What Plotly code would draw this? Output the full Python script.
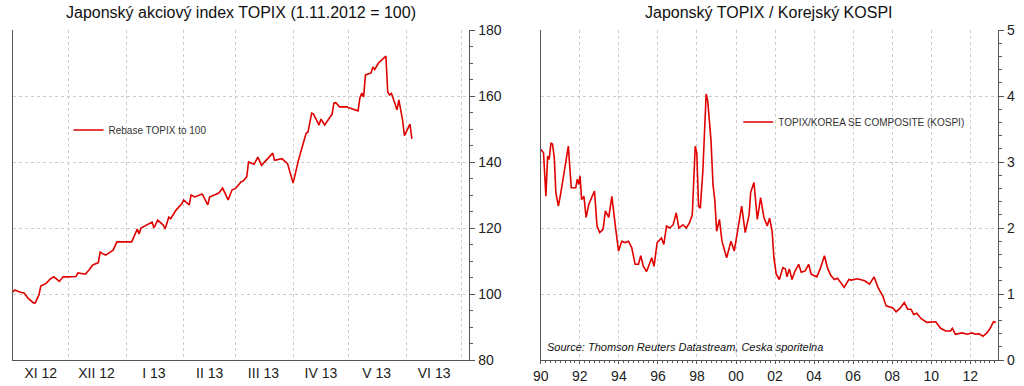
import plotly.graph_objects as go

# ---------------- Left chart: TOPIX rebased (1.11.2012 = 100) ----------------
topix_dates = [
    "2012-11-01", "2012-11-02", "2012-11-05", "2012-11-07", "2012-11-09", "2012-11-12",
    "2012-11-13", "2012-11-15", "2012-11-16", "2012-11-19", "2012-11-21", "2012-11-23",
    "2012-11-26", "2012-11-28", "2012-11-30", "2012-12-05", "2012-12-06", "2012-12-10",
    "2012-12-12", "2012-12-13", "2012-12-14", "2012-12-17", "2012-12-18", "2012-12-19",
    "2012-12-21", "2012-12-25", "2012-12-27", "2012-12-28", "2013-01-04", "2013-01-07",
    "2013-01-08", "2013-01-09", "2013-01-14", "2013-01-15", "2013-01-16", "2013-01-18",
    "2013-01-21", "2013-01-22", "2013-01-24", "2013-01-25", "2013-01-28", "2013-01-30",
    "2013-01-31", "2013-02-01", "2013-02-04", "2013-02-05", "2013-02-07", "2013-02-11",
    "2013-02-14", "2013-02-15", "2013-02-18", "2013-02-20", "2013-02-22", "2013-02-25",
    "2013-02-27", "2013-03-01", "2013-03-04", "2013-03-05", "2013-03-07", "2013-03-08",
    "2013-03-11", "2013-03-13", "2013-03-15", "2013-03-18", "2013-03-21", "2013-03-22",
    "2013-03-26", "2013-03-29", "2013-04-01", "2013-04-04", "2013-04-08", "2013-04-09",
    "2013-04-11", "2013-04-12", "2013-04-15", "2013-04-16", "2013-04-18", "2013-04-22",
    "2013-04-23", "2013-04-24", "2013-04-26", "2013-04-30", "2013-05-01", "2013-05-06",
    "2013-05-07", "2013-05-08", "2013-05-09", "2013-05-10", "2013-05-13", "2013-05-14",
    "2013-05-15", "2013-05-17", "2013-05-20", "2013-05-21", "2013-05-22", "2013-05-23",
    "2013-05-24", "2013-05-27", "2013-05-28", "2013-05-30", "2013-05-31", "2013-06-03",
    "2013-06-04",
]
topix_values = [
    100.6, 101.2, 100.5, 100.3, 98.8, 97.3,
    97.3, 99.7, 102.4, 103.3, 104.5, 105.2,
    103.8, 105.2, 105.2, 105.3, 106.4, 106.0,
    107.3, 107.9, 108.8, 109.5, 112.7, 112.3,
    111.8, 113.3, 115.8, 115.8, 115.8, 119.7,
    118.2, 120.0, 121.5, 121.8, 120.0, 122.4,
    120.9, 119.7, 123.3, 122.8, 125.5, 126.7,
    127.3, 128.5, 127.0, 130.0, 129.4, 130.3,
    127.0, 129.4, 130.0, 130.6, 132.1, 128.5,
    131.5, 132.0, 134.0, 134.2, 135.5, 140.0,
    139.3, 141.5, 139.0, 140.8, 142.7, 140.5,
    141.0, 139.5, 133.6, 140.8, 148.7, 149.0,
    154.8, 154.5, 151.2, 153.0, 151.2, 154.5,
    157.9, 158.0, 156.7, 156.7, 156.4, 155.5,
    159.4, 160.9, 159.7, 166.4, 167.0, 168.8,
    168.0, 170.0, 171.5, 172.1, 161.2, 160.3,
    160.8, 155.8, 158.8, 152.7, 148.0, 151.5,
    147.0,
]
left_month_starts = ["2012-11-01", "2012-12-01", "2013-01-01", "2013-02-01", "2013-03-01",
                     "2013-04-01", "2013-05-01", "2013-06-01", "2013-07-01"]
left_label_dates = ["2012-11-16", "2012-12-16", "2013-01-16", "2013-02-15", "2013-03-16",
                    "2013-04-16", "2013-05-16", "2013-06-16"]
left_labels = ["XI 12", "XII 12", "I 13", "II 13", "III 13", "IV 13", "V 13", "VI 13"]
left_y_ticks = [80, 100, 120, 140, 160, 180]

# ---------------- Right chart: TOPIX / KOSPI ratio ----------------
ratio_years = [
    1990.01, 1990.14, 1990.26, 1990.35, 1990.43, 1990.52, 1990.60, 1990.69, 1990.77, 1990.90,
    1991.03, 1991.19, 1991.41, 1991.56, 1991.79, 1991.87, 1991.95, 1992.01, 1992.09, 1992.21,
    1992.32, 1992.46, 1992.63, 1992.75, 1992.88, 1993.02, 1993.19, 1993.31, 1993.48, 1993.64,
    1993.82, 1993.98, 1994.15, 1994.32, 1994.49, 1994.66, 1994.83, 1995.00, 1995.12, 1995.25,
    1995.42, 1995.68, 1995.80, 1995.96, 1996.18, 1996.30, 1996.44, 1996.61, 1996.78, 1996.94,
    1997.07, 1997.28, 1997.45, 1997.62, 1997.76, 1997.91, 1997.99, 1998.08, 1998.17, 1998.30,
    1998.47, 1998.55, 1998.72, 1998.82, 1998.91, 1999.01, 1999.15, 1999.28, 1999.52, 1999.74,
    1999.91, 2000.16, 2000.29, 2000.47, 2000.67, 2000.75, 2000.92, 2001.09, 2001.26, 2001.43,
    2001.60, 2001.72, 2001.85, 2001.94, 2002.06, 2002.22, 2002.40, 2002.53, 2002.61, 2002.73,
    2002.87, 2003.01, 2003.21, 2003.34, 2003.54, 2003.72, 2003.85, 2004.14, 2004.31, 2004.53,
    2004.70, 2004.86, 2005.04, 2005.20, 2005.37, 2005.54, 2005.78, 2005.91, 2006.22, 2006.59,
    2006.84, 2007.07, 2007.27, 2007.52, 2007.69, 2008.03, 2008.20, 2008.42, 2008.62, 2008.79,
    2008.96, 2009.10, 2009.26, 2009.47, 2009.77, 2009.97, 2010.23, 2010.48, 2010.74, 2010.99,
    2011.08, 2011.24, 2011.58, 2011.84, 2012.09, 2012.26, 2012.43, 2012.65, 2012.85, 2013.02,
    2013.19, 2013.31,
]
ratio_values = [
    3.19, 3.14, 2.48, 3.09, 3.04, 3.29, 3.27, 3.07, 2.54, 2.33,
    2.54, 2.81, 3.24, 2.61, 2.61, 2.74, 2.66, 2.79, 2.43, 2.48,
    2.16, 2.36, 2.48, 2.56, 2.03, 1.93, 1.98, 2.26, 2.16, 2.48,
    2.03, 1.65, 1.80, 1.78, 1.80, 1.70, 1.45, 1.45, 1.58, 1.42,
    1.34, 1.55, 1.42, 1.78, 1.85, 1.75, 2.03, 2.00, 2.05, 2.23,
    2.00, 2.05, 2.00, 2.08, 2.20, 3.24, 3.14, 2.33, 2.30, 2.86,
    4.03, 3.93, 3.32, 2.66, 2.43, 1.95, 2.13, 1.80, 1.55, 1.80,
    1.65, 2.08, 2.33, 1.93, 2.20, 2.54, 2.69, 2.13, 2.46, 2.16,
    2.03, 2.15, 1.95, 1.55, 1.30, 1.22, 1.40, 1.38, 1.26, 1.38,
    1.22, 1.34, 1.45, 1.33, 1.35, 1.45, 1.30, 1.26, 1.38, 1.58,
    1.38, 1.28, 1.22, 1.24, 1.17, 1.10, 1.22, 1.21, 1.23, 1.20,
    1.15, 1.26, 1.10, 0.97, 0.82, 0.79, 0.73, 0.79, 0.87, 0.77,
    0.77, 0.69, 0.71, 0.63, 0.57, 0.57, 0.58, 0.48, 0.44, 0.44,
    0.48, 0.39, 0.41, 0.39, 0.41, 0.39, 0.40, 0.36, 0.41, 0.48,
    0.58, 0.57,
]
right_x_tickvals = [1990, 1992, 1994, 1996, 1998, 2000, 2002, 2004, 2006, 2008, 2010, 2012]
right_x_labels = ["90", "92", "94", "96", "98", "00", "02", "04", "06", "08", "10", "12"]
right_y_ticks = [0, 1, 2, 3, 4, 5]

LINE_RED = "#e00000"
GRID = "#cccccc"
AXIS = "#555555"
FONT = "Liberation Sans, Arial, sans-serif"

W, H = 1024, 386
MT, MB = 30, 26

fig = go.Figure()
fig.add_trace(go.Scatter(
    x=topix_dates, y=topix_values, mode="lines", name="Rebase TOPIX to 100",
    line=dict(color=LINE_RED, width=1.6), xaxis="x", yaxis="y", legend="legend",
))
fig.add_trace(go.Scatter(
    x=ratio_years, y=ratio_values, mode="lines", name="TOPIX/KOREA SE COMPOSITE (KOSPI)",
    line=dict(color=LINE_RED, width=1.6), xaxis="x2", yaxis="y2", legend="legend2",
))

tickfont = dict(family=FONT, size=14, color="#222222")

fig.update_layout(
    width=W, height=H,
    margin=dict(l=0, r=0, t=MT, b=MB),
    paper_bgcolor="white", plot_bgcolor="white",
    font=dict(family=FONT, color="#222222"),
    xaxis=dict(
        domain=[5 / W, 465 / W], anchor="y", type="date",
        range=["2012-11-01", "2013-07-05"],
        tickmode="array", tickvals=left_label_dates, ticktext=left_labels,
        ticks="", showgrid=False, tickfont=tickfont,
        showline=True, linecolor=AXIS, linewidth=1, zeroline=False,
        minor=dict(tickmode="array", tickvals=left_month_starts, showgrid=True,
                   gridcolor=GRID, griddash="dot", gridwidth=1, ticks=""),
    ),
    yaxis=dict(
        domain=[0, 1], anchor="x", side="right", range=[80, 180],
        tickmode="array", tickvals=left_y_ticks, tickfont=tickfont,
        ticks="outside", ticklen=5, tickcolor=AXIS,
        showgrid=True, gridcolor=GRID, griddash="dot", gridwidth=1,
        showline=True, linecolor=AXIS, linewidth=1, mirror=True, zeroline=False,
        minor=dict(dtick=5, ticks="outside", ticklen=3, tickcolor=AXIS, showgrid=False),
    ),
    xaxis2=dict(
        domain=[537 / W, 998 / W], anchor="y2", range=[1990, 2013.43],
        tickmode="array", tickvals=right_x_tickvals, ticktext=right_x_labels,
        ticks="outside", ticklen=3, tickcolor=AXIS, tickfont=tickfont,
        showgrid=True, gridcolor=GRID, griddash="dot", gridwidth=1,
        showline=True, linecolor=AXIS, linewidth=1, zeroline=False,
        minor=dict(dtick=0.25, ticks="outside", ticklen=2, tickcolor=AXIS, showgrid=False),
    ),
    yaxis2=dict(
        domain=[0, 1], anchor="x2", side="right", range=[0, 5],
        tickmode="array", tickvals=right_y_ticks, tickfont=tickfont,
        ticks="outside", ticklen=5, tickcolor=AXIS,
        showgrid=True, gridcolor=GRID, griddash="dot", gridwidth=1,
        showline=True, linecolor=AXIS, linewidth=1, mirror=True, zeroline=False,
        minor=dict(dtick=0.2, ticks="outside", ticklen=3, tickcolor=AXIS, showgrid=False),
    ),
    legend=dict(
        x=61 / W, y=0.697, xanchor="left", yanchor="middle",
        bgcolor="rgba(0,0,0,0)", font=dict(family=FONT, size=10, color="#333333"),
    ),
    legend2=dict(
        x=736 / W, y=0.721, xanchor="left", yanchor="middle",
        bgcolor="rgba(0,0,0,0)", font=dict(family=FONT, size=10, color="#333333"),
    ),
    showlegend=True,
)

fig.add_annotation(
    text="Japonský akciový index TOPIX (1.11.2012 = 100)",
    xref="paper", yref="paper", x=235 / W, y=1 + (MT - 12) / (H - MT - MB),
    xanchor="center", yanchor="middle", showarrow=False,
    font=dict(family=FONT, size=16, color="#111111"),
)
fig.add_annotation(
    text="Japonský TOPIX / Korejský KOSPI",
    xref="paper", yref="paper", x=767 / W, y=1 + (MT - 12) / (H - MT - MB),
    xanchor="center", yanchor="middle", showarrow=False,
    font=dict(family=FONT, size=16, color="#111111"),
)
fig.add_annotation(
    text="<i>Source: Thomson Reuters Datastream, Ceska sporitelna</i>",
    xref="paper", yref="paper", x=541 / W, y=(360 - 347) / (H - MT - MB),
    xanchor="left", yanchor="middle", showarrow=False,
    font=dict(family=FONT, size=11, color="#111111"),
)

fig.write_html(
    "out.html",
    config={"displayModeBar": False},
    post_script="document.body.style.margin='0';document.body.style.overflow='hidden';",
)
